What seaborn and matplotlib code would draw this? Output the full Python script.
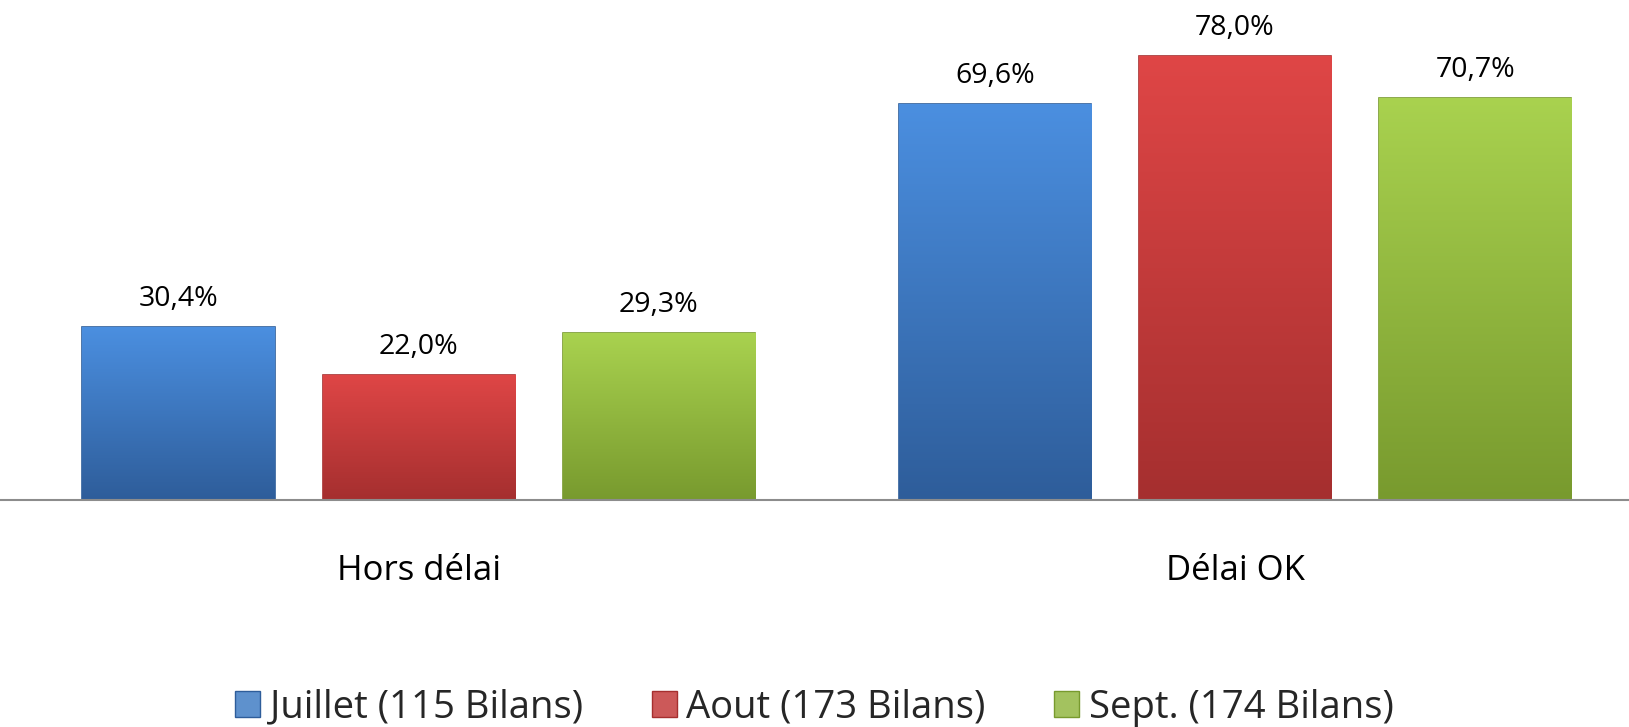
import numpy as np
import pandas as pd
import matplotlib
matplotlib.use('Agg')
import matplotlib.pyplot as plt
import matplotlib.colors as mcolors
import seaborn as sns

#chart data
categories = ['Hors délai', 'Délai OK']
months = ['Juillet (115 Bilans)', 'Aout (173 Bilans)', 'Sept. (174 Bilans)']
juillet = [30.4, 69.6]
aout = [22.0, 78.0]
sept = [29.3, 70.7]

#colours (top/bottom of the gradient for each series)
tops = ['#4b8fe0', '#df4646', '#a9d24f']
bottoms = ['#2e5d9a', '#a52f2f', '#789a2e']

df = pd.DataFrame({
    'categorie': categories * 3,
    'mois': [m for m in months for _ in categories],
    'valeur': juillet + aout + sept,
})

sns.set_style('white')
plt.rcParams['font.family'] = ['Open Sans', 'DejaVu Sans']

fig = plt.figure(figsize=(16.29, 7.27), dpi=100)
ax = fig.add_axes([0, 0.3122, 1, 0.6878])

sns.barplot(data=df, x='categorie', y='valeur', hue='mois', order=categories,
            hue_order=months, palette=tops, width=0.882, gap=0.2,
            ax=ax, legend=True)

#gradient fill + labels on each bar
for i, cont in enumerate(ax.containers):
    cmap = mcolors.LinearSegmentedColormap.from_list('g', [bottoms[i], tops[i]])
    for bar in cont:
        x0, y0 = bar.get_x(), bar.get_y()
        w, h = bar.get_width(), bar.get_height()
        bar.set_edgecolor(bottoms[i])
        bar.set_linewidth(1.2)
        grad = np.linspace(0, 1, 256).reshape(-1, 1)
        im = ax.imshow(grad, cmap=cmap, origin='lower', aspect='auto',
                       extent=[x0, x0 + w, y0, y0 + h], zorder=bar.get_zorder())
        im.set_clip_path(bar)
        ax.annotate(f'{h:.1f}%'.replace('.', ','), (x0 + w / 2, h),
                    xytext=(0, 10), textcoords='offset points',
                    ha='center', va='bottom', fontsize=20.5, color='black')

ax.set_xlim(-0.5126, 1.4825)
ax.set_ylim(0, 87.9)

for s in ['top', 'right', 'left']:
    ax.spines[s].set_visible(False)
ax.spines['bottom'].set_color('#8c8c8c')
ax.spines['bottom'].set_linewidth(1.5)
ax.set_yticks([])
ax.set_xlabel('')
ax.set_ylabel('')
ax.tick_params(axis='x', length=0, pad=39, labelsize=25, labelcolor='black')

handles, labels = ax.get_legend_handles_labels()
for i, hd in enumerate(handles):
    hd.set_edgecolor(bottoms[i])
leg = ax.legend(handles, labels, loc='center', bbox_to_anchor=(0.5, -0.415),
                ncol=3, frameon=False, fontsize=27.5, handlelength=0.65,
                handleheight=0.65, handletextpad=0.25, columnspacing=1.8)

fig.savefig('out.png', dpi=100)
